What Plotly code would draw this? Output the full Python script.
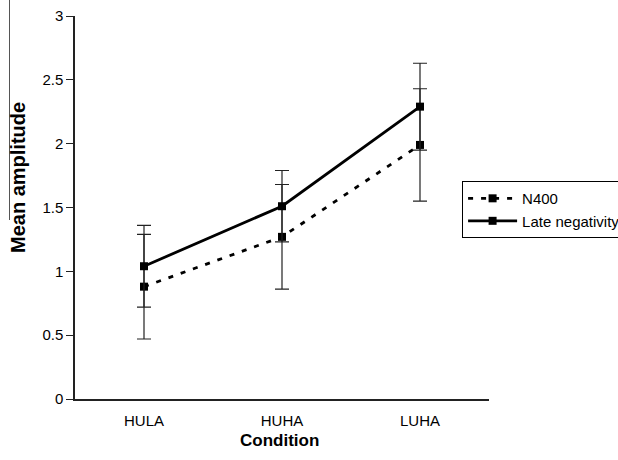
import plotly.graph_objects as go

conditions = ["HULA", "HUHA", "LUHA"]
n400 = [0.88, 1.27, 1.99]
n400_err = [0.41, 0.41, 0.44]
late_neg = [1.04, 1.51, 2.29]
late_neg_err = [0.32, 0.28, 0.34]
y_ticks = [0, 0.5, 1, 1.5, 2, 2.5, 3]
y_ticklabels = ["0", "0.5", "1", "1.5", "2", "2.5", "3"]

FONT = "Arial, Liberation Sans, sans-serif"

fig = go.Figure()
fig.add_trace(go.Scatter(
    x=conditions, y=n400, name="N400", mode="lines+markers",
    line=dict(color="black", width=2.8, dash="5px,8px"),
    marker=dict(symbol="square", size=8, color="black"),
    error_y=dict(type="data", array=n400_err, visible=True, color="#222", thickness=1.2, width=7),
))
fig.add_trace(go.Scatter(
    x=conditions, y=late_neg, name="Late negativity", mode="lines+markers",
    line=dict(color="black", width=2.8),
    marker=dict(symbol="square", size=8, color="black"),
    error_y=dict(type="data", array=late_neg_err, visible=True, color="#222", thickness=1.2, width=7),
))

fig.update_layout(
    width=618, height=460,
    margin=dict(l=75, r=129, t=16, b=61, autoexpand=False),
    paper_bgcolor="white", plot_bgcolor="white",
    font=dict(family=FONT, color="black", size=14),
    showlegend=True,
    legend=dict(
        x=0.935, y=0.569, xanchor="left", yanchor="top",
        bordercolor="black", borderwidth=1, bgcolor="white",
        font=dict(size=15, family=FONT), tracegroupgap=0,
        itemwidth=49,
    ),
    xaxis=dict(
        range=[-0.5, 2.5], showgrid=False, zeroline=False,
        showline=True, linecolor="#222", linewidth=1.5,
        ticks="", ticklabelstandoff=7, automargin=False,
        tickfont=dict(size=15, family=FONT),
    ),
    yaxis=dict(
        range=[0, 3], tickvals=y_ticks, ticktext=y_ticklabels,
        showgrid=False, zeroline=False, automargin=False,
        showline=True, linecolor="#222", linewidth=1.5,
        ticks="outside", ticklen=7, tickcolor="#222",
        ticklabeloverflow="allow",
        tickfont=dict(size=15, family=FONT),
    ),
    annotations=[
        dict(text="<b>Condition</b>", xref="paper", yref="paper",
             x=(279 - 75) / 414, y=(399 - 440) / 383, xanchor="center", yanchor="middle",
             showarrow=False, font=dict(size=17, family=FONT)),
        dict(text="<b>Mean amplitude</b>", xref="paper", yref="paper",
             x=(18 - 75) / 414, y=(399 - 178) / 383, xanchor="center", yanchor="middle",
             textangle=-90, showarrow=False, font=dict(size=20, family=FONT)),
    ],
    shapes=[dict(type="line", xref="paper", yref="paper",
                 x0=(9.5 - 75) / 414, x1=(9.5 - 75) / 414, y0=399 / 383, y1=(399 - 220) / 383,
                 line=dict(color="#555", width=1))],
)

fig.write_html("out.html", config={"displayModeBar": False},
               post_script="document.body.style.margin='0';")
